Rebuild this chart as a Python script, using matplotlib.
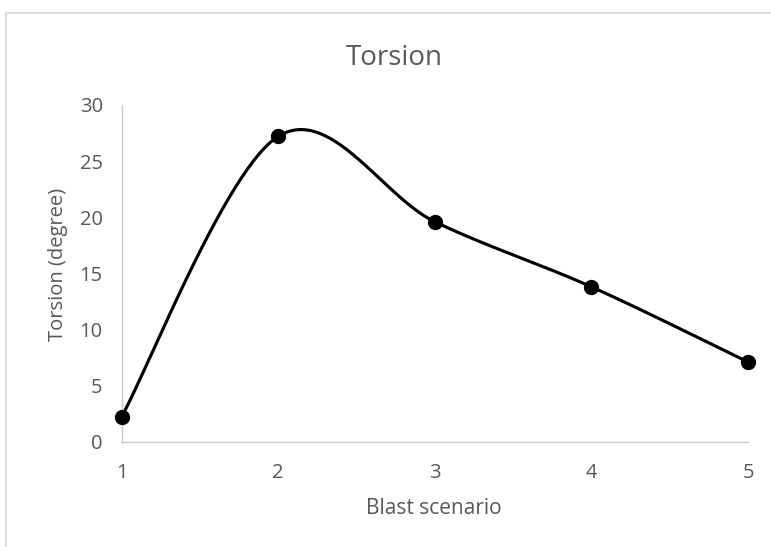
import numpy as np
import matplotlib
matplotlib.use("Agg")
import matplotlib.pyplot as plt
from matplotlib.patches import Rectangle

scenarios = [1, 2, 3, 4, 5]
torsion = [2.2, 27.2, 19.6, 13.8, 7.1]
yticks = [0, 5, 10, 15, 20, 25, 30]

plt.rcParams['font.family'] = ['Open Sans', 'DejaVu Sans']
TXT = '#595959'

def excel_smooth(x, y, n=60):
    x = np.asarray(x, float); y = np.asarray(y, float)
    px = np.concatenate([[x[0]], x, [x[-1]]])
    py = np.concatenate([[y[0]], y, [y[-1]]])
    xs, ys = [], []
    for i in range(1, len(px) - 2):
        p0 = np.array([px[i], py[i]]); p3 = np.array([px[i + 1], py[i + 1]])
        c1 = p0 + (np.array([px[i + 1], py[i + 1]]) - np.array([px[i - 1], py[i - 1]])) / 6
        c2 = p3 - (np.array([px[i + 2], py[i + 2]]) - np.array([px[i], py[i]])) / 6
        t = np.linspace(0, 1, n)[:, None]
        b = (1 - t) ** 3 * p0 + 3 * (1 - t) ** 2 * t * c1 + 3 * (1 - t) * t ** 2 * c2 + t ** 3 * p3
        xs.append(b[:, 0]); ys.append(b[:, 1])
    return np.concatenate(xs), np.concatenate(ys)

W, H = 771, 547
fig = plt.figure(figsize=(W / 100, H / 100), dpi=100)
top = 1 - 13.3 / H
fig.patches.append(Rectangle((6 / W, -0.1), 1.2, top + 0.1, transform=fig.transFigure,
                             fill=False, edgecolor='#d9d9d9', linewidth=1.3))

ax = fig.add_axes([121.5 / W, 1 - 441.7 / H, (748 - 121.5) / W, (441.7 - 105) / H])
sx, sy = excel_smooth(scenarios, torsion)
ax.plot(sx, sy, color='black', linewidth=2.25, solid_capstyle='round', zorder=3, clip_on=False)
ax.plot(scenarios, torsion, 'o', color='black', markersize=10, zorder=4, clip_on=False)

ax.set_xlim(1, 5)
ax.set_ylim(0, 30)
ax.set_xticks(scenarios)
ax.set_yticks(yticks)
ax.tick_params(length=0, labelsize=14.5, colors=TXT)
ax.tick_params(axis='x', pad=15)
ax.tick_params(axis='y', pad=13.5)
for s in ['top', 'right']:
    ax.spines[s].set_visible(False)
for s in ['left', 'bottom']:
    ax.spines[s].set_color('#c8c8c8')
    ax.spines[s].set_linewidth(1.0)

fig.text(394 / W, 1 - 58 / H, 'Torsion', fontsize=20, color=TXT, ha='center', va='center')
fig.text(434 / W, 1 - 509 / H, 'Blast scenario', fontsize=15, color=TXT, ha='center', va='center')
fig.text(58 / W, 1 - 264 / H, 'Torsion (degree)', fontsize=14.5, color=TXT, ha='center', va='center',
         rotation=90)

fig.savefig('out.png', dpi=100)
